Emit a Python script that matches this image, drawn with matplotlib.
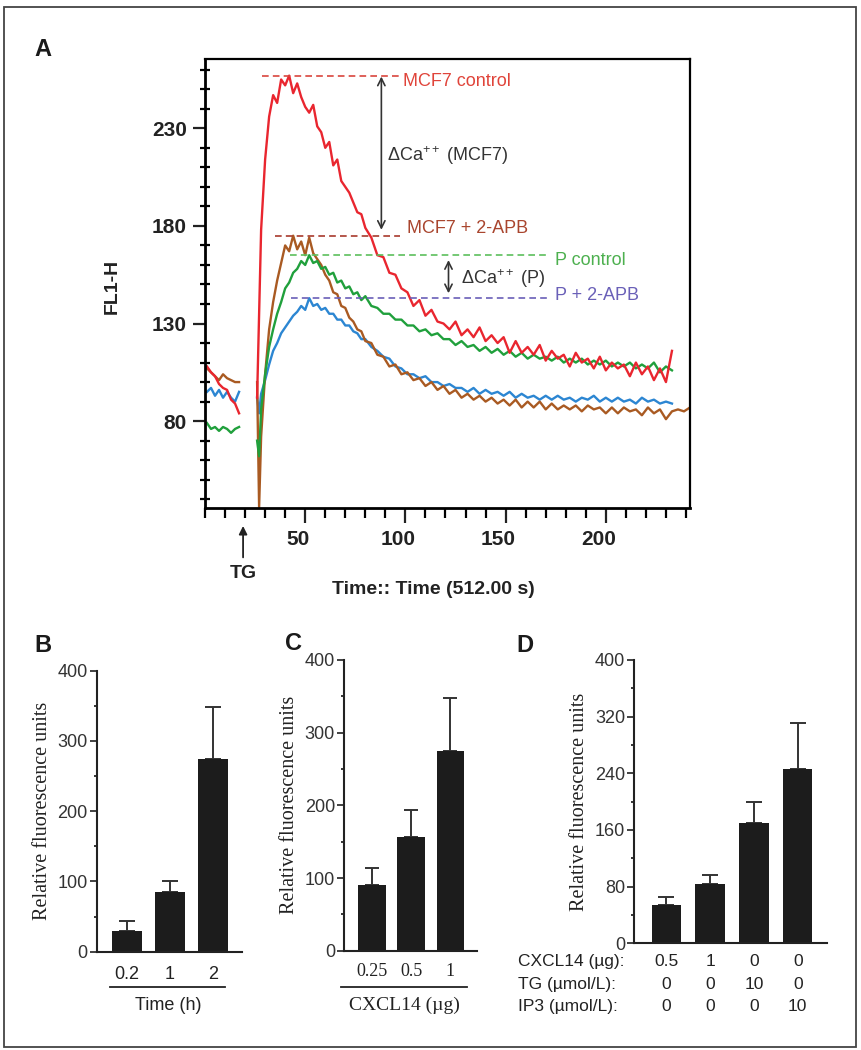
import numpy as np
import matplotlib
matplotlib.use("Agg")
import matplotlib.pyplot as plt
import matplotlib.transforms as mtransforms
from matplotlib.patches import Rectangle
from matplotlib.ticker import FixedLocator, MultipleLocator

plt.rcParams['font.family'] = ['Liberation Sans', 'DejaVu Sans']
plt.rcParams['mathtext.fontset'] = 'custom'
plt.rcParams['mathtext.rm'] = 'Liberation Sans'
plt.rcParams['mathtext.it'] = 'Liberation Sans:italic'
plt.rcParams['mathtext.bf'] = 'Liberation Sans:bold'

nan = np.nan

# ---- Panel A: FL1-H traces ----
t_pre = [1, 3, 5, 7, 9, 11, 13, 15, 17]
mcf7_ctrl_pre = [108, 105, 103, 99, 97, 96, 91, 89, 84]
mcf7_apb_pre = [107, 105, 103, 101, 104, 102, 101, 100, 100]
p_apb_pre = [95, 97, 93, 96, 92, 95, 92, 90, 95]
p_ctrl_pre = [79, 76, 77, 75, 77, 76, 74, 76, 77]

t_main = [26, 27, 28, 30, 32, 34, 36, 38, 40, 42, 44, 46, 48, 50, 52, 54, 56, 58,
          60, 62, 64, 66, 68, 70, 72, 74, 76, 78, 80, 83, 86, 89, 92, 95, 98, 101,
          104, 107, 110, 113, 116, 119, 122, 125, 128, 131, 134, 137, 140, 143, 146,
          149, 152, 155, 158, 161, 164, 167, 170, 173, 176, 179, 182, 185, 188, 191,
          194, 197, 200, 203, 206, 209, 212, 215, 218, 221, 224, 227, 230, 233, 236,
          239, 242]
mcf7_ctrl = [92, 135, 178, 214, 236, 247, 243, 255, 252, 257, 248, 253, 246, 241, 238, 242,
             231, 228, 220, 223, 211, 214, 203, 200, 197, 192, 187, 186, 179, 174, 165, 164,
             156, 155, 148, 146, 139, 142, 134, 137, 131, 130, 127, 131, 124, 127, 123, 128,
             121, 124, 120, 123, 115, 121, 115, 118, 114, 119, 111, 116, 112, 114, 108, 115,
             110, 112, 107, 113, 106, 110, 107, 109, 103, 110, 104, 108, 101, 107, 100, 116,
             nan, nan, nan]
mcf7_apb = [100, 36, 72, 104, 127, 141, 152, 161, 170, 167, 175, 168, 172, 165, 174, 166,
            163, 160, 155, 152, 146, 145, 139, 138, 133, 131, 127, 126, 121, 120, 114, 113,
            108, 109, 104, 105, 101, 102, 98, 100, 96, 98, 94, 96, 92, 94, 91, 93,
            90, 92, 89, 91, 88, 91, 87, 90, 87, 90, 86, 89, 86, 88, 86, 88,
            85, 88, 86, 87, 84, 87, 84, 87, 85, 86, 83, 87, 84, 86, 81, 85,
            86, 85, 87]
p_apb = [92, 84, 94, 101, 109, 116, 120, 125, 128, 131, 134, 136, 139, 137, 143, 139,
         140, 137, 138, 135, 135, 132, 132, 129, 129, 126, 125, 122, 122, 118, 116, 113,
         112, 108, 107, 104, 104, 102, 103, 100, 100, 98, 99, 97, 97, 95, 97, 94,
         96, 94, 95, 93, 95, 92, 94, 92, 93, 91, 93, 91, 93, 91, 92, 90,
         92, 91, 93, 90, 92, 90, 92, 90, 91, 89, 92, 90, 91, 89, 90, 89,
         nan, nan, nan]
p_ctrl = [70, 62, 86, 104, 118, 127, 135, 141, 148, 151, 156, 158, 162, 160, 165, 161,
          162, 158, 159, 155, 156, 151, 152, 148, 149, 145, 146, 142, 144, 139, 138, 135,
          135, 132, 132, 129, 129, 126, 127, 124, 125, 122, 122, 119, 121, 118, 119, 116,
          118, 115, 117, 114, 116, 113, 115, 112, 114, 112, 113, 111, 113, 110, 112, 110,
          112, 109, 111, 109, 111, 108, 110, 108, 110, 107, 109, 107, 110, 105, 108, 106,
          nan, nan, nan]

# ---- Panels B-D: bar data ----
b_labels = ['0.2', '1', '2']
b_vals = [30, 85, 275]
b_err = [13, 15, 73]

c_labels = ['0.25', '0.5', '1']
c_vals = [91, 157, 275]
c_err = [23, 36, 73]

d_vals = [54, 84, 170, 246]
d_err = [12, 13, 30, 65]
d_rows = ['CXCL14 (µg):', 'TG (µmol/L):', 'IP3 (µmol/L):']
d_cxcl14 = ['0.5', '1', '0', '0']
d_tg = ['0', '0', '10', '0']
d_ip3 = ['0', '0', '0', '10']

W, H = 861, 1050
fig = plt.figure(figsize=(W / 100, H / 100), dpi=100)


def px_axes(left, top, right, bottom):
    return fig.add_axes([left / W, 1 - bottom / H, (right - left) / W, (bottom - top) / H])


# outer frame
fig.patches.append(Rectangle((4 / W, 3 / H), 852 / W, 1040 / H, transform=fig.transFigure,
                             fill=False, ec='#444444', lw=1.3))

# ================= Panel A =================
axA = px_axes(205, 59, 690, 508)
red, brown, green, blue = '#e9262f', '#a95a22', '#20a03c', '#2c86d2'
for tt, vv, cc in [(t_pre, p_apb_pre, blue), (t_pre, p_ctrl_pre, green),
                   (t_pre, mcf7_apb_pre, brown), (t_pre, mcf7_ctrl_pre, red),
                   (t_main, p_apb, blue), (t_main, mcf7_apb, brown),
                   (t_main, p_ctrl, green), (t_main, mcf7_ctrl, red)]:
    axA.plot(tt, vv, color=cc, lw=1.7)

axA.set_xlim(0, 242)
axA.set_ylim(35.5, 265.5)
for s in ['left', 'bottom']:
    axA.spines[s].set_linewidth(2.0)
for s in ['top', 'right']:
    axA.spines[s].set_linewidth(1.6)

axA.xaxis.set_major_locator(FixedLocator([50, 100, 150, 200]))
axA.xaxis.set_minor_locator(MultipleLocator(10))
axA.yaxis.set_major_locator(FixedLocator([80, 130, 180, 230]))
axA.yaxis.set_minor_locator(FixedLocator(list(range(40, 261, 10))))
axA.tick_params(axis='x', which='major', direction='out', length=11, width=1.6, pad=5,
                labelsize=15, colors='#222222')
axA.tick_params(axis='x', which='minor', direction='out', length=7, width=1.6)
axA.tick_params(axis='y', which='major', direction='out', length=9, width=1.6, pad=4,
                labelsize=15, colors='#222222')
axA.tick_params(axis='y', which='minor', direction='inout', length=7, width=1.6)
shift = mtransforms.ScaledTranslation(-7 / 100, 0, fig.dpi_scale_trans)
for lab in axA.get_xticklabels():
    lab.set_fontweight('bold')
    lab.set_transform(lab.get_transform() + shift)
for lab in axA.get_yticklabels():
    lab.set_fontweight('bold')

# reference levels and annotations
lev_red = np.nanmax(mcf7_ctrl)
lev_brown = np.nanmax(mcf7_apb)
lev_green = np.nanmax(p_ctrl)
lev_blue = np.nanmax(p_apb)
dash = (0, (4, 2.5))
axA.hlines(lev_red, 28.5, 97.5, colors='#d9453d', linestyles=dash, lw=1.2)
axA.hlines(lev_brown, 35, 97.5, colors='#a83a2c', linestyles=dash, lw=1.2)
axA.hlines(lev_green, 42.5, 171, colors='#5cbf5c', linestyles=dash, lw=1.2)
axA.hlines(lev_blue, 43, 171, colors='#6a5fb8', linestyles=dash, lw=1.2)
axA.text(99, lev_red - 3, 'MCF7 control', color='#e0443a', fontsize=13, va='center')
axA.text(101, lev_brown + 3.5, 'MCF7 + 2-APB', color='#a9452e', fontsize=13, va='center')
axA.text(174.5, lev_green - 2.5, 'P control', color='#4db04f', fontsize=13, va='center')
axA.text(174.5, lev_blue + 1.4, 'P + 2-APB', color='#6a60b8', fontsize=13, va='center')

arr = dict(arrowstyle='<->', color='#333333', lw=1.2, mutation_scale=13, shrinkA=0, shrinkB=0)
axA.annotate('', xy=(88, lev_red - 0.5), xytext=(88, lev_brown + 3), arrowprops=arr)
axA.annotate('', xy=(121.5, lev_green - 2.5), xytext=(121.5, lev_blue + 2.5), arrowprops=arr)
axA.text(91, 216, r'ΔCa$^{++}$ (MCF7)', color='#333333', fontsize=13, va='center')
axA.text(127.5, 153, r'ΔCa$^{++}$ (P)', color='#333333', fontsize=13, va='center')

# TG arrow below axis
axA.annotate('', xy=(19, -0.04), xytext=(19, -0.11), xycoords=('data', 'axes fraction'),
             textcoords=('data', 'axes fraction'),
             arrowprops=dict(arrowstyle='-|>', color='#222222', lw=1.3, mutation_scale=12,
                             shrinkA=0, shrinkB=0), annotation_clip=False)
axA.text(19, -0.145, 'TG', transform=mtransforms.blended_transform_factory(axA.transData, axA.transAxes),
         ha='center', va='center', fontsize=14, fontweight='bold', color='#222222')

fig.text(433 / W, 1 - 590 / H, 'Time:: Time (512.00 s)', ha='center', va='center',
         fontsize=14, fontweight='bold', color='#222222')
fig.text(112 / W, 1 - 286 / H, 'FL1-H', ha='center', va='center', rotation=90,
         fontsize=14, fontweight='bold', color='#222222')

# panel letters
for txt, x, y in [('A', 43, 50), ('B', 43, 645), ('C', 293, 643), ('D', 525, 645)]:
    fig.text(x / W, 1 - y / H, txt, ha='center', va='center', fontsize=17,
             fontweight='bold', color='#1a1a1a')


# ================= Bar panels =================
def bar_panel(ax, vals, err, width, xlim, ymax, major, minor, capsize):
    x = np.arange(len(vals))
    ax.bar(x, vals, width=width, color='#1c1c1c', zorder=2)
    ax.errorbar(x, vals, yerr=[np.zeros(len(vals)), err], fmt='none', ecolor='#333333',
                elinewidth=1.4, capsize=capsize, capthick=1.4, zorder=1)
    ax.set_xlim(*xlim)
    ax.set_ylim(0, ymax)
    ax.yaxis.set_major_locator(MultipleLocator(major))
    ax.yaxis.set_minor_locator(MultipleLocator(minor))
    for s in ['top', 'right']:
        ax.spines[s].set_visible(False)
    for s in ['left', 'bottom']:
        ax.spines[s].set_linewidth(1.5)
        ax.spines[s].set_color('#222222')
    ax.tick_params(axis='y', which='major', length=5, width=1.3, pad=1.5, labelsize=13,
                   colors='#333333')
    ax.tick_params(axis='y', which='minor', length=2.5, width=1.1)
    ax.tick_params(axis='x', length=0)
    ax.set_ylabel('Relative fluorescence units', family=['Liberation Serif', 'DejaVu Serif'],
                  fontsize=14.5, color='#222222', labelpad=4)
    return x


# Panel B
axB = px_axes(96.7, 670.7, 241.7, 951.7)
xB = bar_panel(axB, b_vals, b_err, 0.69, (-0.693, 2.656), 400, 100, 50, 5.8)
axB.set_xticks(xB, b_labels)
axB.tick_params(axis='x', pad=10, labelsize=13, colors='#222222')
trB = mtransforms.blended_transform_factory(axB.transData, axB.transAxes)
axB.plot([-0.385, 2.27], [-0.125, -0.125], transform=trB, clip_on=False, color='#222222', lw=1.3)
axB.text(0.95, -0.19, 'Time (h)', transform=trB, ha='center', va='center', fontsize=13,
         color='#222222')

# Panel C
axC = px_axes(344, 660, 476.7, 950.7)
xC = bar_panel(axC, c_vals, c_err, 0.70, (-0.715, 2.674), 400, 100, 50, 5.0)
axC.set_xticks(xC, c_labels)
axC.tick_params(axis='x', pad=9, labelsize=13, colors='#222222')
for lab in axC.get_xticklabels():
    lab.set_family(['Liberation Serif', 'DejaVu Serif'])
trC = mtransforms.blended_transform_factory(axC.transData, axC.transAxes)
axC.plot([-0.8, 2.42], [-0.125, -0.125], transform=trC, clip_on=False, color='#222222', lw=1.3)
axC.text(0.84, -0.187, 'CXCL14 (µg)', transform=trC, ha='center', va='center', fontsize=14,
         family=['Liberation Serif', 'DejaVu Serif'], color='#222222')

# Panel D
axD = px_axes(634, 660, 826.7, 943.3)
xD = bar_panel(axD, d_vals, d_err, 0.67, (-0.737, 3.66), 400, 80, 40, 5.8)
axD.set_xticks([])
trD = mtransforms.blended_transform_factory(axD.transData, axD.transAxes)
row_y = [-0.065, -0.147, -0.224]
for name, vals, yy in zip(d_rows, [d_cxcl14, d_tg, d_ip3], row_y):
    axD.text(-0.602, yy, name, transform=axD.transAxes, ha='left', va='center', fontsize=12.5,
             color='#222222')
    for xi, v in zip(xD, vals):
        axD.text(xi, yy, v, transform=trD, ha='center', va='center', fontsize=12.5,
                 color='#222222')

fig.savefig('out.png', dpi=100)
